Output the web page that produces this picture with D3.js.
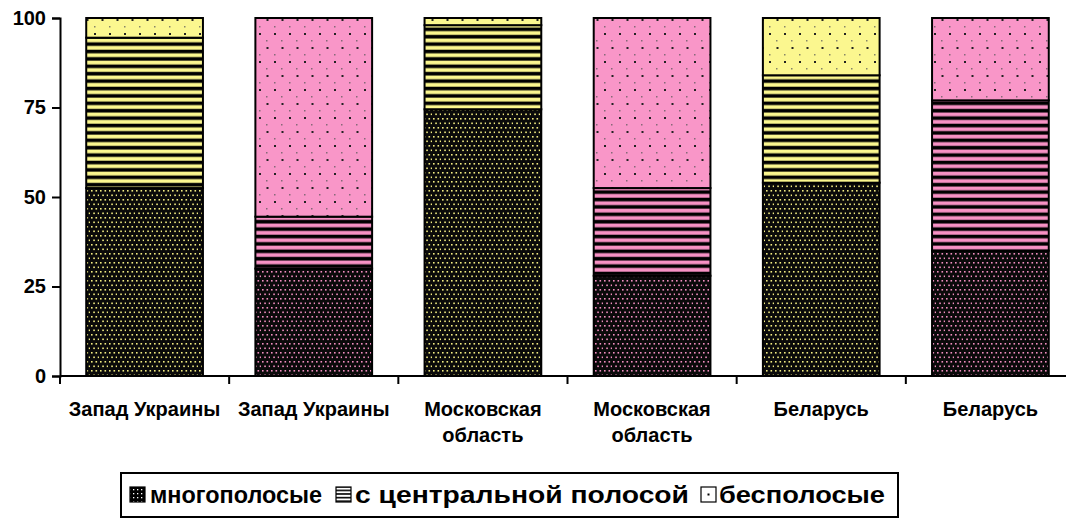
<!DOCTYPE html>
<html>
<head>
<meta charset="utf-8">
<script src="https://cdn.jsdelivr.net/npm/d3@7"></script>
<style>
  body { margin: 0; background: #fff; }
  svg { display: block; font-family: Arial, "Liberation Sans", sans-serif; font-weight: bold; }
</style>
</head>
<body>
<div id="chart"></div>
<script>
// data (percent of each sample)
const categories = ["Запад Украины", "Запад Украины", "Московская область", "Московская область", "Беларусь", "Беларусь"];
const multiStripe = [52.5, 30, 74.5, 28, 54, 35];     // многополосые
const centralStripe = [42, 14.5, 23.5, 24.5, 30, 42]; // с центральной полосой
const noStripe = [5.5, 55.5, 2, 47.5, 16, 23];        // бесполосые
const seriesNames = ["многополосые", "с центральной полосой", "бесполосые"];
const yTicks = [0, 25, 50, 75, 100];

const W = 1066, H = 518;
const margin = { top: 18, left: 60, bottom: 142 };
const plotBottom = H - margin.bottom; // 376

const svg = d3.select("#chart").append("svg").attr("width", W).attr("height", H);
const defs = svg.append("defs");

const tones = {
  yellow: { light: "#fbf78f", stripe: "#fbf78f", dot: "#f0ea80" },
  pink:   { light: "#f996c8", stripe: "#f791c4", dot: "#f08cbe" }
};

// build fill patterns per tone
Object.entries(tones).forEach(([name, c]) => {
  // dots on black
  const p1 = defs.append("pattern").attr("id", "multi-" + name)
    .attr("patternUnits", "userSpaceOnUse").attr("width", 9).attr("height", 9);
  p1.append("rect").attr("width", 9).attr("height", 9).attr("fill", "#0a0a0a");
  [[1, 1], [5.5, 1], [3.25, 5.5], [7.75, 5.5]].forEach(([x, y]) =>
    p1.append("rect").attr("x", x).attr("y", y).attr("width", 1.6).attr("height", 1.6).attr("fill", c.dot));

  // horizontal stripes
  const p2 = defs.append("pattern").attr("id", "central-" + name)
    .attr("patternUnits", "userSpaceOnUse").attr("width", 10).attr("height", 7.4);
  p2.append("rect").attr("width", 10).attr("height", 7.4).attr("fill", "#000");
  p2.append("rect").attr("y", 1.5).attr("width", 10).attr("height", 3.8).attr("fill", c.stripe);

  // light fill with sparse dots
  const p3 = defs.append("pattern").attr("id", "none-" + name)
    .attr("patternUnits", "userSpaceOnUse").attr("width", 30).attr("height", 28);
  p3.append("rect").attr("width", 30).attr("height", 28).attr("fill", c.light);
  [[4, 5], [19, 5], [11.5, 19], [26.5, 19]].forEach(([x, y]) =>
    p3.append("rect").attr("x", x).attr("y", y).attr("width", 2).attr("height", 2).attr("fill", "#222"));
  [[11, 12], [26, 12], [4, 26], [19, 26]].forEach(([x, y]) =>
    p3.append("rect").attr("x", x).attr("y", y).attr("width", 1.5).attr("height", 1.5).attr("fill", "#555").attr("opacity", 0.7));
});

// legend (black & white) patterns
const lp1 = defs.append("pattern").attr("id", "leg-multi")
  .attr("patternUnits", "userSpaceOnUse").attr("width", 4).attr("height", 4);
lp1.append("rect").attr("width", 4).attr("height", 4).attr("fill", "#000");
lp1.append("rect").attr("x", 1).attr("y", 1).attr("width", 1.3).attr("height", 1.3).attr("fill", "#fff");
const lp2 = defs.append("pattern").attr("id", "leg-central")
  .attr("patternUnits", "userSpaceOnUse").attr("width", 4).attr("height", 3.6);
lp2.append("rect").attr("width", 4).attr("height", 3.6).attr("fill", "#fff");
lp2.append("rect").attr("y", 0).attr("width", 4).attr("height", 1.6).attr("fill", "#000");

const x = d3.scaleBand()
  .domain(d3.range(categories.length))
  .range([margin.left, 1075])
  .paddingInner(0.31)
  .paddingOuter(0.155);

const y = d3.scaleLinear().domain([0, 100]).range([plotBottom, margin.top]);

// stacked data
const rows = categories.map((c, i) => ({ multi: multiStripe[i], central: centralStripe[i], none: noStripe[i] }));
const stack = d3.stack().keys(["multi", "central", "none"])(rows);

const toneOf = i => (i % 2 === 0 ? "yellow" : "pink");

stack.forEach(layer => {
  svg.append("g").selectAll("rect").data(layer).join("rect")
    .attr("x", (d, i) => x(i))
    .attr("width", x.bandwidth())
    .attr("y", d => y(d[1]))
    .attr("height", d => y(d[0]) - y(d[1]))
    .attr("fill", (d, i) => `url(#${layer.key}-${toneOf(i)})`)
    .attr("stroke", "#000")
    .attr("stroke-width", 2);
});

// y axis
const yAxis = svg.append("g").attr("transform", `translate(${margin.left},0)`)
  .call(d3.axisLeft(y).tickValues(yTicks).tickSize(8).tickPadding(6));
yAxis.select(".domain").attr("stroke-width", 2);
yAxis.selectAll(".tick line").attr("stroke-width", 2);
yAxis.selectAll("text").attr("font-size", 20).attr("font-family", "Arial, 'Liberation Sans', sans-serif").attr("font-weight", "bold").attr("fill", "#000");

// x axis line with category separators
svg.append("line")
  .attr("x1", margin.left).attr("x2", W)
  .attr("y1", plotBottom).attr("y2", plotBottom)
  .attr("stroke", "#000").attr("stroke-width", 2);
const step = x.step();
svg.append("g").selectAll("line").data(d3.range(categories.length)).join("line")
  .attr("x1", i => x(i) - step * 0.155).attr("x2", i => x(i) - step * 0.155)
  .attr("y1", plotBottom).attr("y2", plotBottom + 8)
  .attr("stroke", "#000").attr("stroke-width", 2);

// category labels
const lbl = svg.append("g").selectAll("text").data(categories).join("text")
  .attr("text-anchor", "middle")
  .attr("font-size", 20)
  .attr("x", (d, i) => x(i) + x.bandwidth() / 2)
  .attr("y", 416);
lbl.each(function (d) {
  const parts = d.startsWith("Московская") ? d.split(" ") : [d];
  const t = d3.select(this);
  parts.forEach((p, k) => t.append("tspan").attr("x", t.attr("x")).attr("dy", k === 0 ? 0 : 26).text(p));
});

// legend
const leg = svg.append("g");
leg.append("rect").attr("x", 121).attr("y", 473).attr("width", 777).attr("height", 44)
  .attr("fill", "#fff").attr("stroke", "#000").attr("stroke-width", 2);
const legItems = [
  { name: seriesNames[0], fill: "url(#leg-multi)", sx: 130, tx: 150, w: 172 },
  { name: seriesNames[1], fill: "url(#leg-central)", sx: 336, tx: 355, w: 334 },
  { name: seriesNames[2], fill: "#fff", sx: 701, tx: 719, w: 166 }
];
legItems.forEach((it, k) => {
  leg.append("rect").attr("x", it.sx).attr("y", 487).attr("width", 15).attr("height", 15)
    .attr("fill", it.fill).attr("stroke", "#000").attr("stroke-width", 1.2);
  if (k === 2) {
    leg.append("rect").attr("x", it.sx + 6.5).attr("y", 493.5).attr("width", 2).attr("height", 2).attr("fill", "#000");
  }
  leg.append("text").attr("x", it.tx).attr("y", 503).attr("font-size", 24)
    .attr("textLength", it.w).attr("lengthAdjust", "spacingAndGlyphs").text(it.name);
});
</script>
</body>
</html>
